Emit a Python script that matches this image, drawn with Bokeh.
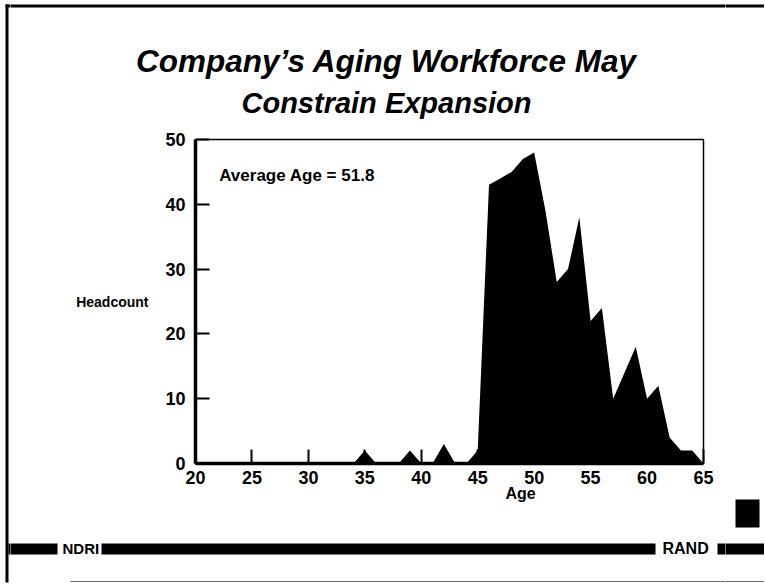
from bokeh.plotting import figure
from bokeh.models import Range1d, FixedTicker, Label, Title
from bokeh.layouts import row, column
from bokeh.core.properties import value
from bokeh.embed import file_html
from bokeh.resources import INLINE

# ---- data ----
ages = list(range(20, 66))
headcount = [0, 0, 0, 0, 0, 0, 0, 0, 0, 0,      # 20-29
             0, 0, 0, 0, 0, 2, 0, 0, 0, 2,      # 30-39
             0, 0, 3, 0, 0, 2, 43, 44, 45, 47,  # 40-49
             48, 39, 28, 30, 38, 22, 24, 10, 14, 18,  # 50-59
             10, 12, 4, 2, 2, 0]                # 60-65
x_ticks = [20, 25, 30, 35, 40, 45, 50, 55, 60, 65]
y_ticks = [0, 10, 20, 30, 40, 50]
title_lines = ["Company\u2019s Aging Workforce May", "Constrain Expansion"]
note_text = "Average Age = 51.8"
x_label = "Age"
y_label = "Headcount"
footer_left = "NDRI"
footer_right = "RAND"

FONT = "Liberation Sans"
TOTAL_W, TOTAL_H = 764, 585

# decoration shapes in page pixels (left, right, top, bottom)
deco_boxes = [
    (5, 8, 4, 582),        # slide left border
    (5, 764, 4, 7),        # slide top border
    (8, 57, 543, 554),     # footer band pieces
    (101, 655, 543, 554),
    (717, 764, 543, 554),
    (735, 759, 499, 527),  # small square
]
deco_lines = [(70, 764, 581)]  # faint bottom border
# texts: (panel, x, y, text, size, align, style)
deco_texts = [
    ("top", 386, 60, title_lines[0], "31.5px", "center", "bold italic"),
    ("top", 386, 102, title_lines[1], "29px", "center", "bold italic"),
    ("foot", 62, 548, footer_left, "15px", "left", "bold"),
    ("foot", 662, 548, footer_right, "16px", "left", "bold"),
]


def no_align(f):
    try:
        f.frame_align = False
    except Exception:
        pass


def deco_fig(name, x0, x1, y0, y1):
    f = figure(width=x1 - x0, height=y1 - y0, output_backend="svg",
               toolbar_location=None, x_axis_type=None, y_axis_type=None,
               x_range=Range1d(x0, x1), y_range=Range1d(y1, y0),
               min_border=0)
    f.min_border_left = f.min_border_right = 0
    f.min_border_top = f.min_border_bottom = 0
    no_align(f)
    f.grid.visible = False
    f.outline_line_color = None
    f.background_fill_color = "white"
    f.border_fill_color = "white"
    for (l, r, t, b) in deco_boxes:
        if r > x0 and l < x1 and b > y0 and t < y1:
            f.quad(left=l, right=r, top=t, bottom=b, fill_color="black",
                   line_color=None)
    for (l, r, y) in deco_lines:
        if r > x0 and l < x1 and y0 <= y <= y1:
            f.segment(x0=l, y0=y, x1=r, y1=y, line_color="#666666",
                      line_width=1.2)
    for (panel, x, y, t, size, align, style) in deco_texts:
        if panel == name:
            f.text(x=[x], y=[y], text=[t], text_font=value(FONT),
                   text_font_size=value(size), text_font_style=style,
                   text_align=align, text_baseline="alphabetic",
                   text_color="black")
    return f


# layout columns: left strip 0-10, main 10-725, right strip 725-764
MX0, MX1 = 10, 725
TOP_Y1, CH_Y1 = 128, 510

left_strip = deco_fig("left", 0, MX0, 0, TOTAL_H)
right_strip = deco_fig("right", MX1, TOTAL_W, 0, TOTAL_H)
top_fig = deco_fig("top", MX0, MX1, 0, TOP_Y1)
foot_fig = deco_fig("foot", MX0, MX1, CH_Y1, TOTAL_H)

# chart: frame at page x 195..703, y 139..463
p = figure(width=MX1 - MX0, height=CH_Y1 - TOP_Y1, output_backend="svg",
           toolbar_location=None,
           x_range=Range1d(20, 65), y_range=Range1d(0, 50),
           min_border_left=195 - MX0, min_border_right=MX1 - 703,
           min_border_top=139 - TOP_Y1, min_border_bottom=CH_Y1 - 463)
no_align(p)
p.grid.visible = False
p.background_fill_color = "white"
p.border_fill_color = "white"
p.outline_line_color = "black"
p.outline_line_width = 1.5

p.varea(x=ages, y1=0, y2=headcount, fill_color="black")

for ax in (p.xaxis[0], p.yaxis[0]):
    ax.axis_line_width = 3.5
    ax.axis_line_color = "black"
    ax.major_tick_in = 14
    ax.major_tick_out = 0
    ax.major_tick_line_width = 2
    ax.minor_tick_line_color = None
    ax.major_label_text_font = FONT
    ax.major_label_text_font_style = "bold"
    ax.major_label_text_font_size = "18px"
    ax.major_label_text_color = "black"
p.xaxis[0].ticker = FixedTicker(ticks=x_ticks)
p.yaxis[0].ticker = FixedTicker(ticks=y_ticks)
p.xaxis[0].major_label_standoff = 7
p.yaxis[0].major_label_standoff = 10

ya = p.yaxis[0]
ya.axis_label = y_label
ya.axis_label_orientation = "horizontal"
ya.axis_label_text_font = FONT
ya.axis_label_text_font_style = "bold"
ya.axis_label_text_font_size = "14px"
ya.axis_label_text_color = "black"
ya.axis_label_standoff = 14

age_title = Title(text=x_label, align="left", offset=310,
                  text_font=FONT, text_font_style="bold",
                  text_font_size="16px", text_color="black", standoff=0)
try:
    age_title.standoff = -8
except Exception:
    pass
p.add_layout(age_title, "below")

p.add_layout(Label(x=22.1, y=44.4, text=note_text, text_font=FONT,
                   text_font_style="bold", text_font_size="17px",
                   text_baseline="alphabetic", text_color="black"))

layout = row(left_strip, column(top_fig, p, foot_fig), right_strip)

open("out.html", "w").write(file_html(layout, INLINE))
